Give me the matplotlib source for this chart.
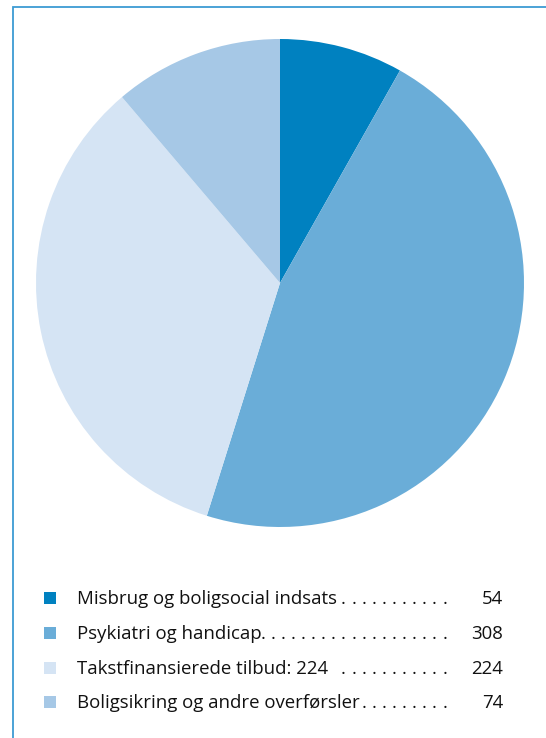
import matplotlib
matplotlib.use("Agg")
import matplotlib.pyplot as plt

categories = ["Misbrug og boligsocial indsats", "Psykiatri og handicap",
              "Takstfinansierede tilbud: 224", "Boligsikring og andre overførsler"]
values = [54, 308, 224, 74]
value_labels = ["54", "308", "224", "74"]
colors = ["#0081c0", "#6aadd8", "#d5e4f4", "#a6c8e6"]
dot_counts = [11, 19, 11, 9]

W, H = 546, 738
fig = plt.figure(figsize=(W / 100, H / 100), dpi=100)
plt.rcParams['font.family'] = ['Open Sans', 'DejaVu Sans']

# pie
cx, cy, r = 280, 283, 244
ax = fig.add_axes([(cx - r) / W, (H - cy - r) / H, 2 * r / W, 2 * r / H])
ax.pie(values, colors=colors, startangle=90, counterclock=False,
       wedgeprops=dict(linewidth=0))
ax.set_xlim(-1, 1)
ax.set_ylim(-1, 1)
ax.set_aspect('equal')
ax.axis('off')

# overlay in pixel coords
ov = fig.add_axes([0, 0, 1, 1], facecolor='none')
ov.set_xlim(0, W)
ov.set_ylim(H, 0)
ov.axis('off')
ov.plot([13, 13, W], [H, 7, 7], color="#3d9bd3", lw=1.3, solid_joinstyle='miter')

fs = 13.4
row_y = [598, 633, 668, 702]
for i, (cat, vl, col, nd) in enumerate(zip(categories, value_labels, colors, dot_counts)):
    y = row_y[i]
    ov.add_patch(plt.Rectangle((44, y - 6), 12, 12, color=col, lw=0))
    ov.text(77, y + 6, cat, fontsize=fs, va='baseline', ha='left', color='#111111')
    for k in range(nd):
        ov.text(447 - 10.1 * k, y + 6, '.', fontsize=fs, va='baseline', ha='right', color='#111111')
    ov.text(503, y + 6, vl, fontsize=fs, va='baseline', ha='right', color='#111111')

fig.savefig("out.png", dpi=100)
